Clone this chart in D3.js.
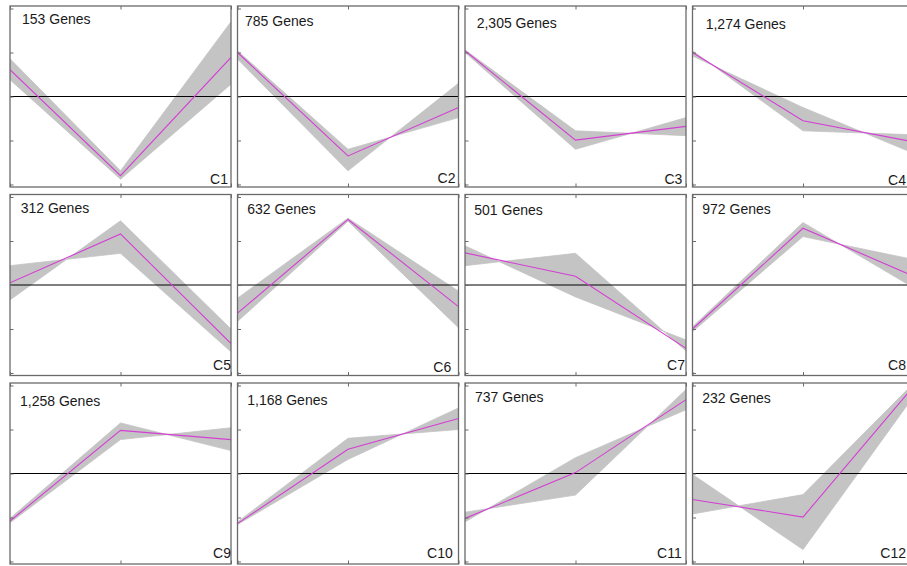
<!DOCTYPE html>
<html>
<head>
<meta charset="utf-8">
<script src="https://cdn.jsdelivr.net/npm/d3@7"></script>
<style>
  html, body { margin: 0; padding: 0; background: #fff; }
  svg { display: block; }
  text { font-family: "Liberation Sans", Arial, sans-serif; }
</style>
</head>
<body>
<script>
// Expression clusters: three time points per gene, z-scored.
const clusters = ["C1", "C2", "C3", "C4", "C5", "C6", "C7", "C8", "C9", "C10", "C11", "C12"];
const geneCounts = [153, 785, 2305, 1274, 312, 632, 501, 972, 1258, 1168, 737, 232];
const timePoints = [0, 1, 2];
const yTicks = [-2, -1, 0, 1, 2];

// Cluster centroid profiles (magenta line).
const meanProfiles = [
  [0.61, -1.80, 0.89],
  [1.00, -1.35, -0.25],
  [1.04, -0.99, -0.68],
  [1.00, -0.55, -1.03],
  [0.05, 1.16, -1.33],
  [-0.64, 1.49, -0.49],
  [0.73, 0.20, -1.44],
  [-1.00, 1.29, 0.20],
  [-1.08, 0.98, 0.77],
  [-1.14, 0.55, 1.25],
  [-1.02, 0.02, 1.68],
  [-0.59, -0.99, 1.98]
];

// Two extreme member genes per cluster; the grey band is the region swept between them.
const edgeGeneA = [
  [0.86, -1.69, 1.70],
  [1.04, -1.20, -0.48],
  [1.06, -0.78, -0.89],
  [0.92, -0.25, -1.29],
  [0.44, 0.72, -1.52],
  [-0.30, 1.52, -0.14],
  [0.89, -0.27, -1.25],
  [-0.95, 1.42, -0.06],
  [-1.02, 1.15, 0.52],
  [-1.10, 0.80, 1.00],
  [-0.88, -0.49, 1.91],
  [-0.02, -1.73, 1.75]
];
const edgeGeneB = [
  [0.38, -1.88, 0.28],
  [0.85, -1.69, 0.30],
  [1.00, -1.20, -0.48],
  [1.04, -0.78, -0.87],
  [-0.34, 1.46, -1.00],
  [-0.83, 1.45, -0.97],
  [0.44, 0.72, -1.50],
  [-1.06, 1.10, 0.58],
  [-1.12, 0.77, 1.04],
  [-1.16, 0.32, 1.49],
  [-1.10, 0.36, 1.45],
  [-0.92, -0.48, 2.05]
];

// ---- layout ----
const W = 907, H = 566;
const cols = 4;
const panelW = 221, panelH = 181;
const colStep = 227.5, rowStep = 188.5;
const originX = 10, originY = 6;
const yExtent = 2.057;

// small per-panel placement of the two labels: [dx, baseline dy] and [right inset, bottom inset]
const countLabelPos = [[12, 18], [7.5, 19.7], [11.7, 22.3], [13.2, 23], [10.7, 18.3], [9.8, 19.3],
                       [9.3, 20.7], [9.8, 19], [10, 22.7], [9.8, 22], [10, 19], [9.8, 19.7]];
const nameLabelPos = [[3, 3], [3, 3.7], [3.7, 3], [7.5, 2.5], [0, 5.3], [7.3, 3.7],
                      [1, 5.3], [7.5, 6], [0, 6], [5.7, 5.7], [4.3, 6], [7.5, 6]];

const fmt = d3.format(",");
const bandColor = "#c4c4c4";
const frameColor = "#6a6a6a";
const meanColor = "#d43fd4";

const x = d3.scaleLinear().domain(d3.extent(timePoints)).range([0, panelW]);
const y = d3.scaleLinear().domain([-yExtent, yExtent]).range([panelH, 0]);

// Upper/lower envelope of a set of piecewise-linear profiles (exact, using pairwise crossings).
function envelope(profiles) {
  const upper = [], lower = [];
  for (let i = 0; i < timePoints.length - 1; i++) {
    const segs = profiles.map(p => [p[i], p[i + 1]]);
    const ss = [0, 1];
    for (let a = 0; a < segs.length; a++) {
      for (let b = a + 1; b < segs.length; b++) {
        const d0 = segs[a][0] - segs[b][0];
        const d1 = segs[a][1] - segs[b][1];
        if (d0 * d1 < 0) ss.push(d0 / (d0 - d1));
      }
    }
    ss.sort((p, q) => p - q);
    ss.forEach((s, k) => {
      if (i > 0 && k === 0) return;
      const vals = segs.map(sg => sg[0] + (sg[1] - sg[0]) * s);
      const t = timePoints[i] + (timePoints[i + 1] - timePoints[i]) * s;
      upper.push([t, d3.max(vals)]);
      lower.push([t, d3.min(vals)]);
    });
  }
  return upper.concat(lower.reverse());
}

const svg = d3.select("body").append("svg")
  .attr("width", W).attr("height", H)
  .attr("viewBox", `0 0 ${W} ${H}`);

const line = d3.line().x(d => x(d[0])).y(d => y(d[1]));

clusters.forEach((name, i) => {
  const cx = originX + (i % cols) * colStep;
  const cy = originY + Math.floor(i / cols) * rowStep;
  const g = svg.append("g").attr("transform", `translate(${cx},${cy})`);

  const clipId = `clip-${i}`;
  g.append("clipPath").attr("id", clipId)
    .append("rect").attr("width", panelW).attr("height", panelH);

  const plot = g.append("g").attr("clip-path", `url(#${clipId})`);

  // grey band of member genes
  const profiles = [edgeGeneA[i], edgeGeneB[i]];
  plot.append("path")
    .attr("d", line(envelope(profiles)) + "Z")
    .attr("fill", bandColor)
    .attr("stroke", bandColor)
    .attr("stroke-width", 0.8)
    .attr("stroke-linejoin", "round");

  // zero line
  plot.append("line")
    .attr("x1", 0).attr("x2", panelW)
    .attr("y1", y(0)).attr("y2", y(0))
    .attr("stroke", "#000").attr("stroke-width", 1);

  // centroid
  plot.append("path")
    .datum(timePoints.map((t, k) => [t, meanProfiles[i][k]]))
    .attr("d", line)
    .attr("fill", "none")
    .attr("stroke", meanColor)
    .attr("stroke-width", 1.1);

  // inward ticks
  const yAxis = d3.axisRight(y).tickValues(yTicks).tickSize(3.5).tickFormat("");
  const xAxisTop = d3.axisBottom(x).tickValues(timePoints).tickSize(3.5).tickFormat("");
  const xAxisBottom = d3.axisTop(x).tickValues(timePoints).tickSize(3.5).tickFormat("");
  [g.append("g").call(yAxis),
   g.append("g").call(xAxisTop),
   g.append("g").attr("transform", `translate(0,${panelH})`).call(xAxisBottom)]
    .forEach(ax => {
      ax.select(".domain").remove();
      ax.selectAll(".tick line").attr("stroke", frameColor).attr("stroke-width", 1);
    });

  // frame
  g.append("rect")
    .attr("width", panelW).attr("height", panelH)
    .attr("fill", "none")
    .attr("stroke", frameColor)
    .attr("stroke-width", 1.3);

  g.append("text")
    .attr("x", countLabelPos[i][0]).attr("y", countLabelPos[i][1])
    .attr("font-size", 14).attr("fill", "#1a1a1a")
    .text(`${fmt(geneCounts[i])} Genes`);

  g.append("text")
    .attr("x", panelW - nameLabelPos[i][0]).attr("y", panelH - nameLabelPos[i][1])
    .attr("text-anchor", "end")
    .attr("font-size", 14).attr("fill", "#1a1a1a")
    .text(name);
});
</script>
</body>
</html>
